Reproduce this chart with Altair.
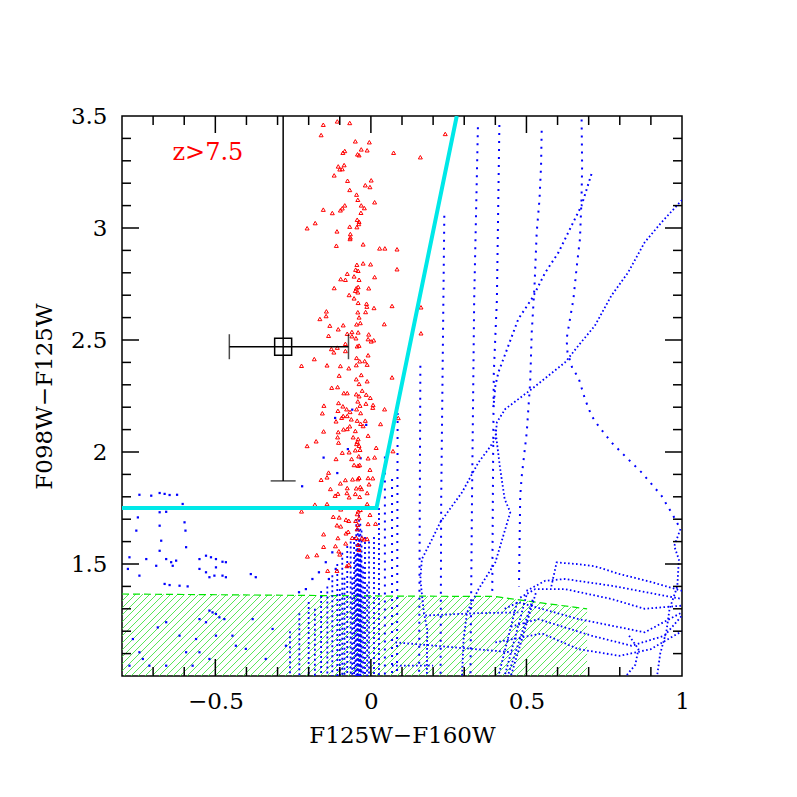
import altair as alt
import pandas as pd
import numpy as np

# ---------------- axes ----------------
X_DOMAIN = [-0.8, 1.0]
Y_DOMAIN = [1.0, 3.5]
X_LABELS = [-0.5, 0, 0.5, 1]
Y_LABELS = [1.5, 2, 2.5, 3, 3.5]
X_MAJOR = [-0.5, 0.0, 0.5]
X_MINOR = [-0.7, -0.6, -0.4, -0.3, -0.2, -0.1, 0.1, 0.2, 0.3, 0.4, 0.6, 0.7, 0.8, 0.9]
Y_MAJOR = [1.5, 2.0, 2.5, 3.0]
Y_MINOR = [1.1, 1.2, 1.3, 1.4, 1.6, 1.7, 1.8, 1.9, 2.1, 2.2, 2.3, 2.4,
           2.6, 2.7, 2.8, 2.9, 3.1, 3.2, 3.3, 3.4]
X_TITLE = "F125W\u2212F160W"
Y_TITLE = "F098W\u2212F125W"
LABEL_TEXT = "z>7.5"
LABEL_POS = (-0.524, 3.335)

# ---------------- selection boundary (cyan) ----------------
CUT_X = [-0.8, 0.018, 0.276]
CUT_Y = [1.75, 1.75, 3.5]

# ---------------- error bar ----------------
EB_X, EB_Y = -0.282, 2.47
EB_XLO, EB_XHI = -0.455, -0.072
EB_YLO, EB_YHI = 1.871, 3.6

# ---------------- hatched (excluded) region ----------------
HATCH_TOP_X = [-0.8, 0.05, 0.40, 0.50, 0.695]
HATCH_TOP_Y = [1.366, 1.357, 1.355, 1.335, 1.30]

# ---------------- red z>7.5 simulated galaxies ----------------
RED_X = [
    -0.153, -0.108, -0.068, -0.160, -0.050, -0.005, -0.031, -0.012, -0.084, -0.090,
    -0.043, -0.038, 0.073, -0.086, -0.105, -0.100, -0.092, -0.118, -0.075, 0.001,
    -0.018, -0.003, -0.068, -0.046, -0.042, 0.012, -0.031, -0.084, -0.021, -0.092,
    -0.098, -0.153, -0.124, -0.032, -0.179, -0.044, -0.038, -0.039, -0.068, -0.045,
    -0.205, -0.109, -0.066, -0.066,
    -0.067, -0.111, -0.025, 0.028, 0.045, 0.084, -0.045, -0.025, -0.001, -0.049,
    -0.041, 0.084, -0.076, 0.012, -0.097, -0.082, -0.054, -0.038, -0.118, -0.047,
    -0.041, -0.007, -0.050, -0.042, -0.070, -0.054, -0.041, -0.014, -0.013, 0.010,
    0.068, -0.143, -0.042, -0.017, -0.144, -0.038, -0.164, -0.034, -0.046, -0.089,
    -0.132, 0.043, -0.105, -0.041, -0.061, -0.076, -0.007, -0.136, -0.061, -0.048,
    -0.009, 0.001, 0.009, -0.082, -0.038, -0.044, -0.108, -0.127, -0.119, -0.082,
    -0.009, -0.046, -0.036, -0.182, -0.020, -0.047, -0.012, -0.141, -0.223, -0.098,
    -0.071,
    -0.102, -0.031, 0.068, -0.047, -0.012, -0.038, -0.126, -0.107, -0.028, -0.087,
    -0.076, -0.047, -0.015, -0.038, -0.002, -0.042, -0.104, -0.016, 0.007, -0.151,
    -0.090, -0.035, 0.006, 0.044, -0.078, -0.046, -0.106, -0.156, -0.067, -0.033,
    -0.089, -0.076, -0.094, 0.088, -0.112, -0.063, -0.044, -0.018, -0.033, -0.025,
    -0.068, -0.088, -0.076, -0.050, -0.152, -0.105, -0.009, -0.057, -0.107, -0.041,
    -0.044, -0.176, -0.104, -0.046, -0.038, -0.205, 0.017, -0.050, -0.035, -0.092,
    -0.070, 0.071, -0.039, -0.009, 0.012, -0.112, -0.062, -0.036, -0.054, -0.041,
    -0.003, -0.136, -0.141, -0.038, -0.009, 0.006, -0.160, -0.059, -0.042, -0.082,
    -0.098, -0.006, -0.130, -0.076, -0.047, -0.034, -0.030, -0.106, -0.115, -0.077,
    -0.050, -0.012, -0.070, -0.036, 0.031,
    -0.141, -0.180, -0.012, -0.223, -0.097, -0.041, -0.034, -0.121, -0.102, -0.044,
    -0.003, -0.038, -0.080, -0.071, -0.049, -0.109, -0.097, -0.042, -0.009, 0.015,
    -0.044, -0.073, -0.080, -0.152, -0.106, -0.060, -0.047, -0.029, -0.022, -0.012,
    -0.081, -0.041, -0.152, -0.114, -0.038, -0.103, -0.174, -0.100, -0.204, -0.071,
    -0.077, -0.109, -0.139, 0.239, 0.159, 0.161, 0.161,
]
RED_Y = [
    3.461, 3.476, 3.469, 3.415, 3.387, 3.383, 3.351, 3.347, 3.344, 3.336,
    3.329, 3.325, 3.336, 3.281, 3.275, 3.262, 3.263, 3.235, 3.211, 3.213,
    3.191, 3.183, 3.170, 3.149, 3.126, 3.115, 3.101, 3.101, 3.089, 3.088,
    3.079, 3.082, 3.067, 3.068, 3.022, 3.037, 3.028, 3.018, 3.006, 3.004,
    2.999, 2.985, 2.973, 2.958,
    2.951, 2.921, 2.927, 2.909, 2.909, 2.905, 2.836, 2.842, 2.838, 2.814,
    2.809, 2.816, 2.796, 2.781, 2.772, 2.769, 2.784, 2.769, 2.732, 2.731,
    2.737, 2.731, 2.720, 2.713, 2.701, 2.686, 2.666, 2.662, 2.649, 2.643,
    2.652, 2.628, 2.624, 2.625, 2.607, 2.601, 2.594, 2.576, 2.570, 2.566,
    2.564, 2.571, 2.548, 2.534, 2.536, 2.528, 2.525, 2.519, 2.517, 2.508,
    2.504, 2.494, 2.499, 2.483, 2.475, 2.472, 2.466, 2.460, 2.445, 2.451,
    2.432, 2.420, 2.405, 2.415, 2.406, 2.388, 2.390, 2.387, 2.385, 2.384,
    2.374,
    2.341, 2.344, 2.333, 2.325, 2.316, 2.304, 2.287, 2.290, 2.274, 2.263,
    2.263, 2.258, 2.256, 2.249, 2.242, 2.226, 2.219, 2.216, 2.210, 2.207,
    2.204, 2.207, 2.198, 2.191, 2.191, 2.191, 2.184, 2.173, 2.179, 2.174,
    2.161, 2.161, 2.153, 2.152, 2.137, 2.146, 2.140, 2.140, 2.126, 2.116,
    2.115, 2.101, 2.103, 2.094, 2.092, 2.089, 2.073, 2.066, 2.066, 2.058,
    2.046, 2.048, 2.042, 2.036, 2.028, 2.027, 2.019, 2.008, 2.010, 1.997,
    1.999, 2.004, 1.981, 1.972, 1.976, 1.969, 1.969, 1.942, 1.942, 1.939,
    1.921, 1.908, 1.887, 1.885, 1.884, 1.883, 1.876, 1.878, 1.879, 1.875,
    1.860, 1.856, 1.835, 1.839, 1.838, 1.844, 1.835, 1.814, 1.805, 1.817,
    1.813, 1.817, 1.798, 1.800, 2.125,
    1.768, 1.765, 1.768, 1.735, 1.744, 1.735, 1.742, 1.711, 1.708, 1.723,
    1.720, 1.705, 1.698, 1.693, 1.693, 1.673, 1.668, 1.675, 1.679, 1.680,
    1.656, 1.644, 1.637, 1.633, 1.616, 1.617, 1.617, 1.615, 1.610, 1.612,
    1.592, 1.586, 1.577, 1.580, 1.563, 1.557, 1.540, 1.543, 1.534, 1.497,
    1.491, 1.470, 1.470, 3.420, 3.316, 2.646, 2.530,
]

# ---------------- blue isolated model points ----------------
BLUE_X = [
    -0.744, -0.706, -0.679, -0.663, -0.647, -0.623, -0.679, -0.658, -0.605, -0.749,
    -0.754, -0.679, -0.599, -0.596, -0.674, -0.594, -0.776, -0.679, -0.658, -0.642,
    -0.626, -0.551, -0.530, -0.514, -0.498, -0.477, -0.466, -0.551, -0.530, -0.498,
    -0.477, -0.466, -0.663, -0.647, -0.615, -0.589, -0.386, -0.370, -0.744, -0.781,
    -0.690, -0.637, -0.722, -0.519, -0.503, -0.231, -0.209, -0.188, -0.167, -0.145,
    -0.124, -0.135, -0.113,
    -0.509, -0.519, -0.498, -0.487, -0.471, -0.551, -0.530, -0.658, -0.685, -0.765,
    -0.562, -0.551, -0.519, -0.498, -0.615, -0.594, -0.744, -0.712, -0.658, -0.573,
    -0.445, -0.434, -0.402, -0.380, -0.316, -0.273, -0.338, -0.776, -0.733,
    -0.060, -0.115, -0.074, -0.152, -0.033, -0.108, -0.221, -0.015,
]
BLUE_Y = [
    1.809, 1.805, 1.817, 1.813, 1.808, 1.809, 1.731, 1.733, 1.768, 1.708,
    1.649, 1.671, 1.686, 1.649, 1.604, 1.575, 1.530, 1.559, 1.522, 1.508,
    1.515, 1.522, 1.537, 1.530, 1.522, 1.510, 1.508, 1.478, 1.463, 1.485,
    1.448, 1.441, 1.411, 1.406, 1.403, 1.400, 1.455, 1.441, 1.448, 1.478,
    1.492, 1.492, 1.522, 1.441, 1.448, 1.374, 1.388, 1.433, 1.463, 1.508,
    1.552, 1.433, 1.478,
    1.284, 1.292, 1.277, 1.262, 1.254, 1.254, 1.240, 1.240, 1.217, 1.165,
    1.165, 1.106, 1.076, 1.180, 1.180, 1.106, 1.106, 1.046, 1.046, 1.046,
    1.180, 1.135, 1.121, 1.254, 1.210, 1.135, 1.076, 1.046, 1.076,
    2.189, 2.152, 2.013, 1.975, 1.972, 1.906, 1.847, 2.121,
]

# ---------------- blue model tracks (sparsely sampled) ----------------
TRACK_S1 = [(0.086, 2.21), (0.084, 1.0)]
TRACK_S2 = [(0.068, 1.88), (0.068, 1.0)]
TRACK_S3 = [(0.045, 1.98), (0.045, 1.0)]
TRACK_S4 = [(0.159, 2.385), (0.155, 1.0)]
TRACK_S5 = [(0.236, 3.055), (0.226, 1.79), (0.224, 1.0)]
TRACK_S6 = [(0.344, 3.45), (0.332, 2.68), (0.325, 1.79), (0.32, 1.0)]
TRACK_S7 = [(0.413, 3.46), (0.405, 2.68), (0.395, 2.35), (0.393, 2.0), (0.392, 1.79), (0.39, 1.36)]
TRACK_F = [(0.549, 3.434), (0.547, 3.278), (0.542, 3.129), (0.533, 2.981), (0.526, 2.743),
           (0.517, 2.534), (0.512, 2.311), (0.501, 2.088), (0.485, 1.894), (0.48, 1.805), (0.476, 1.40)]
TRACK_G = [(0.677, 3.52), (0.679, 3.278), (0.677, 3.129), (0.672, 2.951), (0.662, 2.832),
           (0.651, 2.683), (0.64, 2.594), (0.629, 2.504), (0.632, 2.445), (0.648, 2.371),
           (0.667, 2.333), (0.688, 2.237), (0.709, 2.162), (0.731, 2.117), (0.773, 2.043),
           (0.816, 1.983), (0.87, 1.909), (0.934, 1.805), (0.97, 1.72), (0.995, 1.656)]
TRACK_I = [(0.709, 3.241), (0.677, 3.10), (0.645, 3.01), (0.603, 2.891), (0.56, 2.80),
           (0.52, 2.69), (0.474, 2.594), (0.442, 2.475), (0.41, 2.356), (0.40, 2.296), (0.394, 2.20)]

# ---------------- blue model tracks (densely sampled) ----------------
TRACK_H = [(1.0, 3.125), (0.934, 3.025), (0.88, 2.936), (0.827, 2.802), (0.773, 2.698),
           (0.72, 2.564), (0.667, 2.475), (0.624, 2.40), (0.517, 2.281), (0.432, 2.192),
           (0.405, 2.133), (0.40, 2.058), (0.378, 2.013), (0.346, 1.954), (0.293, 1.82),
           (0.223, 1.686), (0.197, 1.612), (0.164, 1.522), (0.159, 1.433), (0.17, 1.284),
           (0.181, 1.21), (0.18, 1.0)]
TRACK_J = [(0.40, 2.10), (0.415, 1.93), (0.43, 1.79), (0.448, 1.731), (0.432, 1.656),
           (0.40, 1.507), (0.346, 1.388), (0.309, 1.284), (0.298, 1.165), (0.293, 1.0)]
TRACK_B1 = [(0.58, 1.40), (0.597, 1.507), (0.66, 1.50), (0.72, 1.49), (0.80, 1.455), (0.90, 1.42), (1.0, 1.38)]
TRACK_B2 = [(0.50, 1.38), (0.56, 1.425), (0.624, 1.433), (0.773, 1.403), (1.0, 1.344)]
TRACK_B3 = [(0.48, 1.35), (0.528, 1.388), (0.624, 1.388), (0.773, 1.344), (0.88, 1.30), (1.0, 1.314)]
TRACK_B4 = [(0.43, 1.30), (0.474, 1.329), (0.667, 1.254), (0.773, 1.225), (0.88, 1.195), (1.0, 1.284)]
TRACK_B5 = [(0.45, 1.22), (0.538, 1.254), (0.709, 1.180), (0.838, 1.135), (0.944, 1.180), (1.0, 1.27)]
TRACK_B6 = [(0.40, 1.15), (0.55, 1.19), (0.667, 1.12), (0.80, 1.09), (0.90, 1.12), (1.0, 1.20)]
TRACK_B7 = [(0.50, 1.36), (0.43, 1.0)]
TRACK_B8 = [(0.53, 1.37), (0.45, 1.0)]
TRACK_B9 = [(0.47, 1.33), (0.41, 1.0)]
TRACK_B10 = [(0.52, 1.34), (0.44, 1.0)]
TRACK_B11 = [(0.995, 1.656), (0.975, 1.58), (0.99, 1.52), (0.985, 1.40), (0.96, 1.30),
             (0.95, 1.2), (0.93, 1.10), (0.92, 1.0)]
TRACK_B12 = [(0.83, 1.18), (0.86, 1.12), (0.85, 1.05), (0.82, 1.0)]
TRACK_B13 = [(0.079, 1.15), (0.25, 1.13), (0.453, 1.106)]
TRACK_B14 = [(0.175, 1.27), (0.33, 1.28), (0.474, 1.284)]
TRACK_B15 = [(0.068, 1.046), (0.2, 1.046)]

# ---------------- dense low-z cloud (vertical model columns) ----------------
CLOUD_X = [-0.26, -0.23, -0.20, -0.18, -0.16, -0.140, -0.124, -0.108, -0.092, -0.076,
           -0.065, -0.054, -0.047, -0.042, -0.038, -0.034, -0.030, -0.019, -0.006, 0.010, 0.026]
CLOUD_TOP = [1.20, 1.28, 1.33, 1.30, 1.38, 1.40, 1.45, 1.50, 1.55, 1.58,
             1.60, 1.62, 1.70, 1.66, 1.72, 1.68, 1.65, 1.62, 1.60, 1.62, 1.75]
CORE_X = [-0.060, -0.050, -0.044, -0.040, -0.036, -0.032, -0.025, -0.100, -0.085, -0.012]
CORE_TOP = [1.45, 1.55, 1.58, 1.60, 1.62, 1.55, 1.50, 1.40, 1.45, 1.42]

# ================= build =================
W, H = 560, 560
FONT = "DejaVu Serif"

xs = alt.Scale(domain=X_DOMAIN, nice=False, zero=False)
ys = alt.Scale(domain=Y_DOMAIN, nice=False, zero=False)
xaxis = alt.Axis(values=X_LABELS, format=".2~f", title=X_TITLE, grid=False, domain=False,
                 ticks=False, tickSize=0, labelFont=FONT, labelFontSize=23, labelColor="black",
                 labelPadding=14, titleFont=FONT, titleFontSize=23, titleFontWeight="normal",
                 titleColor="black", titlePadding=11, labelFlush=False)
yaxis = alt.Axis(values=Y_LABELS, format=".2~f", title=Y_TITLE, grid=False, domain=False,
                 ticks=False, tickSize=0, labelFont=FONT, labelFontSize=23, labelColor="black",
                 labelPadding=15, titleFont=FONT, titleFontSize=23, titleFontWeight="normal",
                 titleColor="black", titlePadding=14, labelFlush=False)


def X(f):
    return alt.X(f, type="quantitative", scale=xs, axis=xaxis)


def Y(f):
    return alt.Y(f, type="quantitative", scale=ys, axis=yaxis)


# hatch lines (45 degrees on screen), clipped to the excluded region
px_x = W / (X_DOMAIN[1] - X_DOMAIN[0])
px_y = H / (Y_DOMAIN[1] - Y_DOMAIN[0])
slope = px_x / px_y
step = 7.0 / px_x
xl, xr = HATCH_TOP_X[0], HATCH_TOP_X[-1]
rows = []
c = xl - (max(HATCH_TOP_Y) - Y_DOMAIN[0]) / slope
while c < xr:
    x0 = max(c, xl)
    y0 = Y_DOMAIN[0] + slope * (x0 - c)
    if y0 < np.interp(x0, HATCH_TOP_X, HATCH_TOP_Y):
        grid = np.linspace(x0, xr, 3000)
        f = Y_DOMAIN[0] + slope * (grid - c) - np.interp(grid, HATCH_TOP_X, HATCH_TOP_Y)
        x1 = grid[np.argmax(f >= 0)] if (f >= 0).any() else xr
        y1 = Y_DOMAIN[0] + slope * (x1 - c)
        rows.append({"x": x0, "y": y0, "x2": x1, "y2": y1})
    c += step
hatch_df = pd.DataFrame(rows)
hatch_edge_df = pd.DataFrame({"x": HATCH_TOP_X, "y": HATCH_TOP_Y, "i": range(len(HATCH_TOP_X))})


def tracks_df(named):
    recs = []
    for name, pts in named.items():
        for i, (a, b) in enumerate(pts):
            recs.append({"t": name, "i": i, "x": a, "y": b})
    return pd.DataFrame(recs)


sparse_df = tracks_df({"S1": TRACK_S1, "S2": TRACK_S2, "S3": TRACK_S3, "S4": TRACK_S4,
                       "S5": TRACK_S5, "S6": TRACK_S6, "S7": TRACK_S7, "F": TRACK_F,
                       "G": TRACK_G})
medium_df = tracks_df({"I": TRACK_I})
dense_df = tracks_df({"H": TRACK_H, "J": TRACK_J, "B1": TRACK_B1, "B2": TRACK_B2,
                      "B3": TRACK_B3, "B4": TRACK_B4, "B5": TRACK_B5, "B6": TRACK_B6,
                      "B7": TRACK_B7, "B8": TRACK_B8, "B9": TRACK_B9, "B10": TRACK_B10,
                      "B11": TRACK_B11, "B12": TRACK_B12, "B13": TRACK_B13,
                      "B14": TRACK_B14, "B15": TRACK_B15})
cloud_df = pd.DataFrame({"x": CLOUD_X, "y": CLOUD_TOP, "y2": [Y_DOMAIN[0]] * len(CLOUD_X)})
core_df = pd.DataFrame({"x": CORE_X, "y": CORE_TOP, "y2": [Y_DOMAIN[0]] * len(CORE_X)})
blue_df = pd.DataFrame({"x": BLUE_X, "y": BLUE_Y})
red_df = pd.DataFrame({"x": RED_X, "y": RED_Y})
cut_df = pd.DataFrame({"x": CUT_X, "y": CUT_Y, "i": range(len(CUT_X))})
eb_df = pd.DataFrame({"x": [EB_X], "y": [EB_Y], "xlo": [EB_XLO], "xhi": [EB_XHI],
                      "ylo": [EB_YLO], "yhi": [EB_YHI]})
lab_df = pd.DataFrame({"x": [LABEL_POS[0]], "y": [LABEL_POS[1]], "t": [LABEL_TEXT]})

BLUE = "#0000ff"
layers = []

layers.append(alt.Chart(hatch_df).mark_rule(color="#2ee02e", strokeWidth=0.8, clip=True).encode(
    x=X("x"), y=Y("y"), x2="x2:Q", y2="y2:Q"))
layers.append(alt.Chart(hatch_edge_df).mark_line(color="#00e600", strokeWidth=1.2,
                                                 strokeDash=[7, 4], clip=True).encode(
    x=X("x"), y=Y("y"), order="i:Q"))

layers.append(alt.Chart(cloud_df).mark_rule(color=BLUE, strokeWidth=1.8, strokeDash=[2, 3],
                                            clip=True).encode(x=X("x"), y=Y("y"), y2="y2:Q"))
layers.append(alt.Chart(core_df).mark_rule(color=BLUE, strokeWidth=1.8, strokeDash=[2, 3],
                                           strokeDashOffset=2.5, clip=True).encode(
    x=X("x"), y=Y("y"), y2="y2:Q"))
layers.append(alt.Chart(sparse_df).mark_line(color=BLUE, strokeWidth=2, strokeDash=[2, 6],
                                             strokeCap="butt", clip=True).encode(
    x=X("x"), y=Y("y"), detail="t:N", order="i:Q"))
layers.append(alt.Chart(medium_df).mark_line(color=BLUE, strokeWidth=2, strokeDash=[1.8, 3.5],
                                             strokeCap="butt", clip=True).encode(
    x=X("x"), y=Y("y"), detail="t:N", order="i:Q"))
layers.append(alt.Chart(dense_df).mark_line(color=BLUE, strokeWidth=1.8, strokeDash=[1.6, 2.4],
                                            strokeCap="butt", clip=True).encode(
    x=X("x"), y=Y("y"), detail="t:N", order="i:Q"))
layers.append(alt.Chart(blue_df).mark_square(color=BLUE, size=5, opacity=1, clip=True).encode(
    x=X("x"), y=Y("y")))

layers.append(alt.Chart(red_df).mark_point(shape="triangle-up", filled=False, color="#ff0000",
                                           size=16, strokeWidth=1, opacity=1, clip=True).encode(
    x=X("x"), y=Y("y")))

layers.append(alt.Chart(cut_df).mark_line(color="#00e8e8", strokeWidth=4, clip=True).encode(
    x=X("x"), y=Y("y"), order="i:Q"))

# error bar
layers.append(alt.Chart(eb_df).mark_rule(color="black", strokeWidth=1.5, clip=True).encode(
    x=X("xlo"), x2="xhi:Q", y=Y("y")))
layers.append(alt.Chart(eb_df).mark_rule(color="black", strokeWidth=1.5, clip=True).encode(
    x=X("x"), y=Y("ylo"), y2="yhi:Q"))
layers.append(alt.Chart(eb_df).mark_tick(color="black", orient="vertical", size=25,
                                         thickness=1.5, clip=True).encode(x=X("xlo"), y=Y("y")))
layers.append(alt.Chart(eb_df).mark_tick(color="black", orient="vertical", size=25,
                                         thickness=1.5, clip=True).encode(x=X("xhi"), y=Y("y")))
layers.append(alt.Chart(eb_df).mark_tick(color="black", orient="horizontal", size=25,
                                         thickness=1.5, clip=True).encode(x=X("x"), y=Y("ylo")))
layers.append(alt.Chart(eb_df).mark_square(color="black", filled=False, size=289, strokeWidth=1.5,
                                           opacity=1).encode(x=X("x"), y=Y("y")))

layers.append(alt.Chart(lab_df).mark_text(font=FONT, fontSize=24, color="#ff0000",
                                          align="center", baseline="middle").encode(
    x=X("x"), y=Y("y"), text="t:N"))

# inward ticks on all four sides
for vals, ln in [(X_MAJOR, 17), (X_MINOR, 9)]:
    d = pd.DataFrame({"x": vals})
    layers.append(alt.Chart(d).mark_rule(color="black", strokeWidth=1.5).encode(
        x=X("x"), y=alt.value(H), y2=alt.value(H - ln)))
    layers.append(alt.Chart(d).mark_rule(color="black", strokeWidth=1.5).encode(
        x=X("x"), y=alt.value(0), y2=alt.value(ln)))
for vals, ln in [(Y_MAJOR, 17), (Y_MINOR, 9)]:
    d = pd.DataFrame({"y": vals})
    layers.append(alt.Chart(d).mark_rule(color="black", strokeWidth=1.5).encode(
        y=Y("y"), x=alt.value(0), x2=alt.value(ln)))
    layers.append(alt.Chart(d).mark_rule(color="black", strokeWidth=1.5).encode(
        y=Y("y"), x=alt.value(W), x2=alt.value(W - ln)))

chart = alt.layer(*layers).properties(
    width=W, height=H,
    autosize=alt.AutoSizeParams(type="none"),
    padding={"left": 114, "top": 108, "right": 15, "bottom": 113},
    background="white",
).configure_view(stroke="black", strokeWidth=1.5)

chart.save("out.html", embed_options={"renderer": "svg", "actions": False})
